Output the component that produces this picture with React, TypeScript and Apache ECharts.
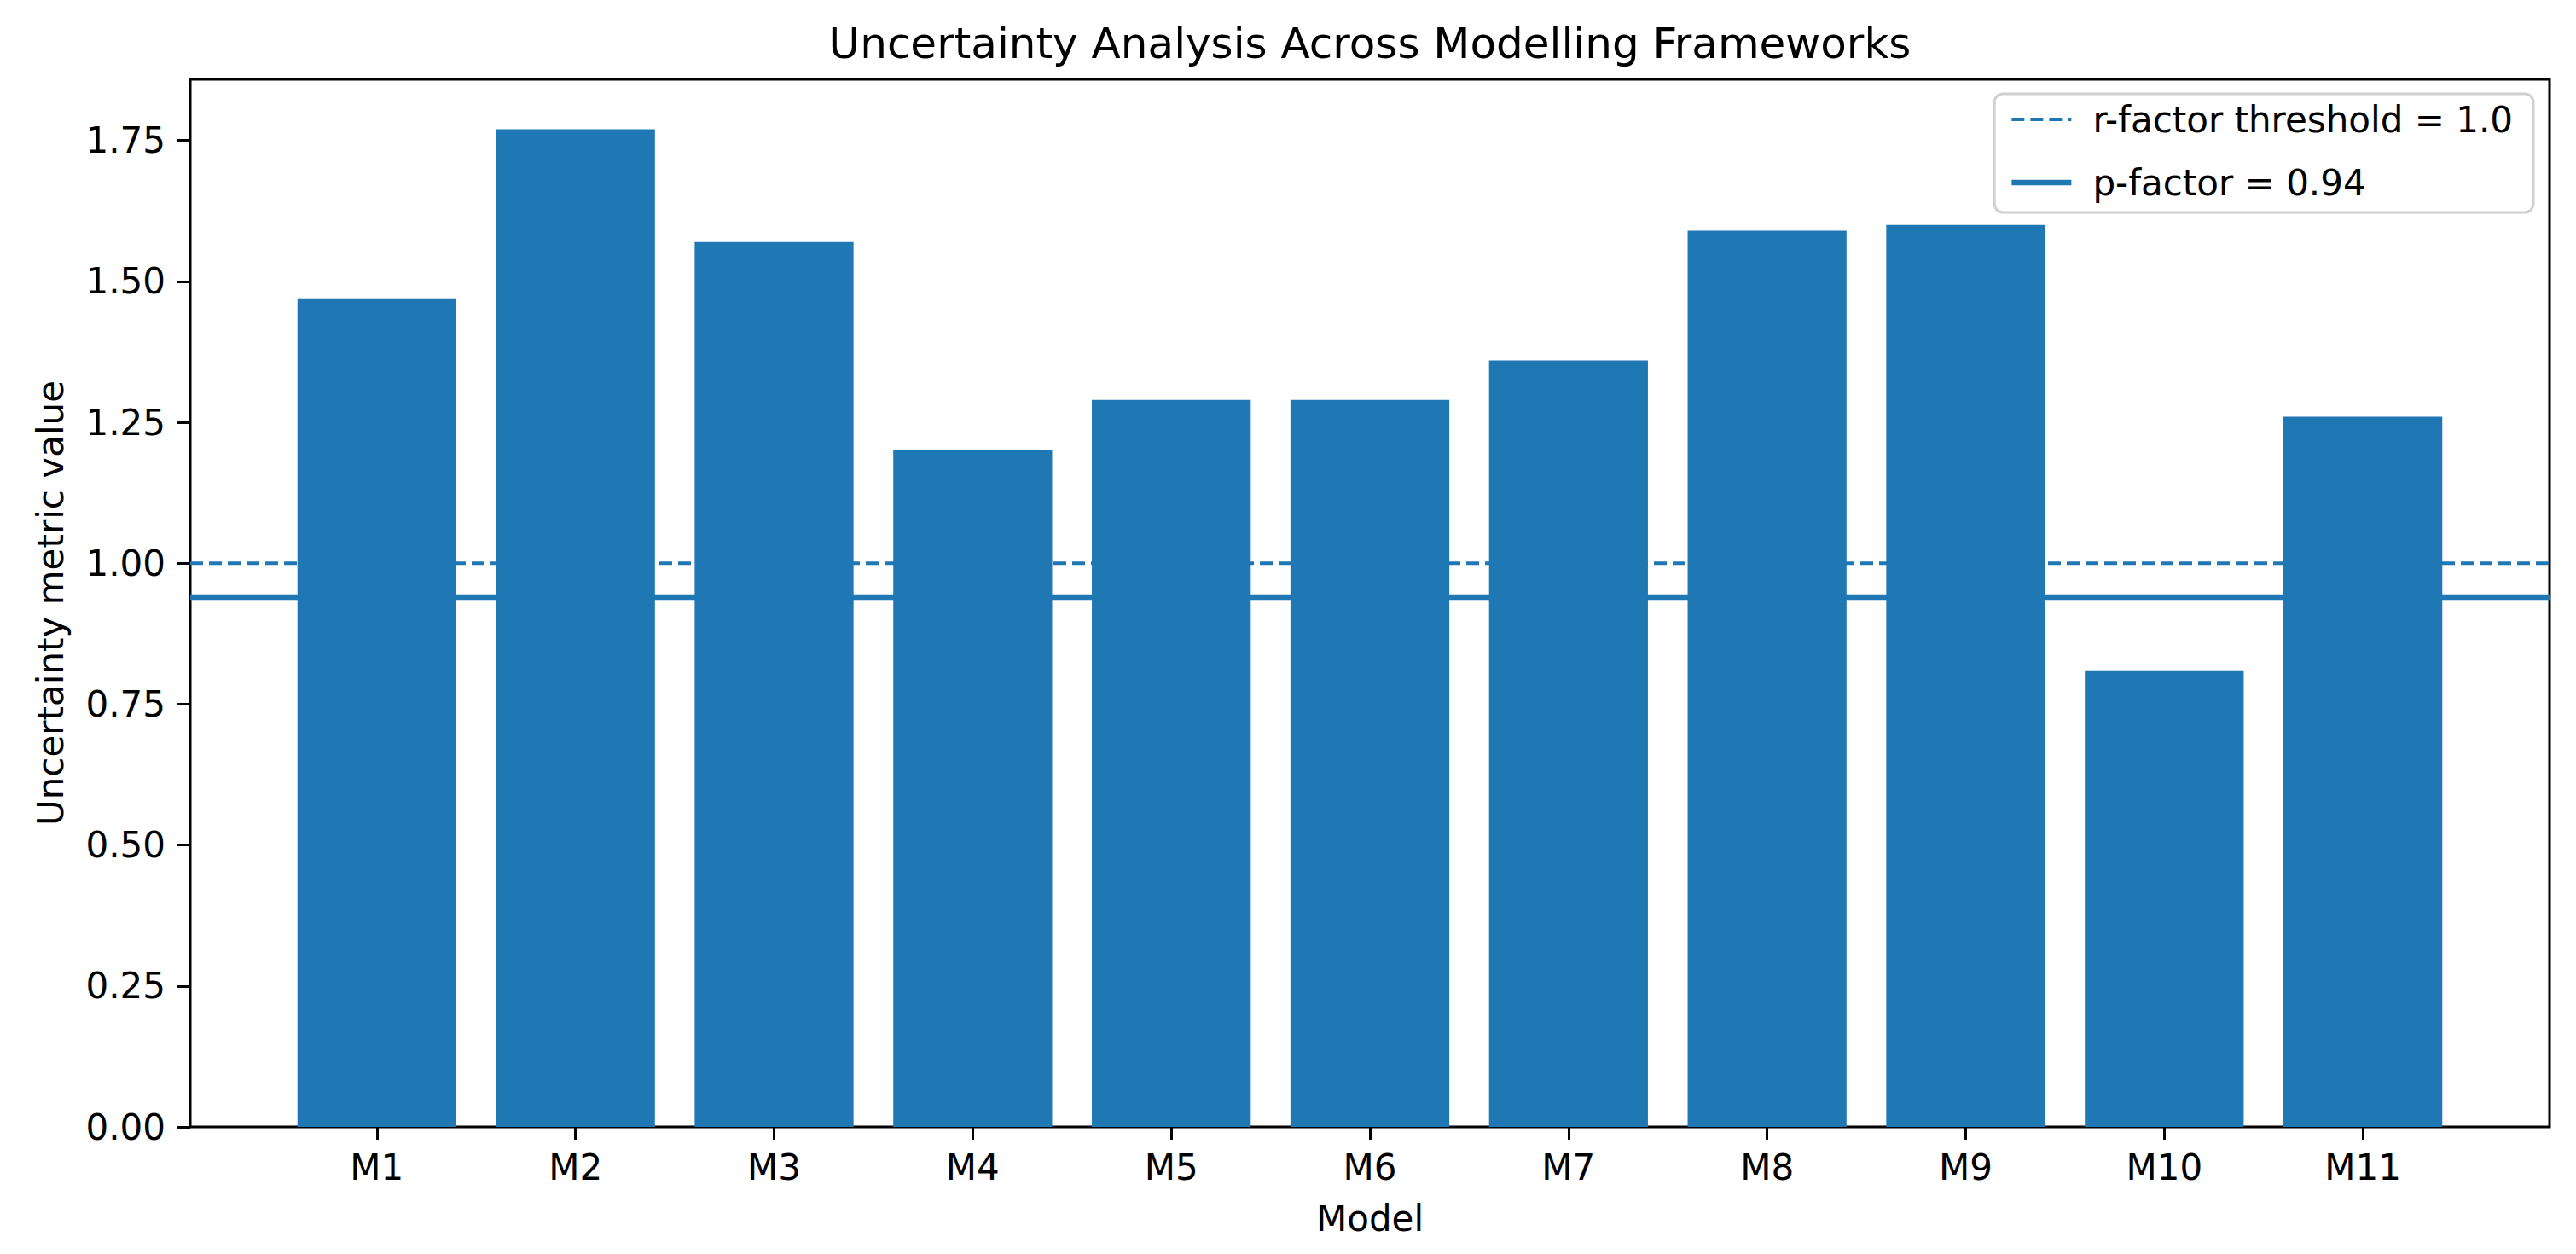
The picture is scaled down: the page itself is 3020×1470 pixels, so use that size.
import React, { useEffect, useRef } from 'react';
import * as echarts from 'echarts';

const categories = ['M1', 'M2', 'M3', 'M4', 'M5', 'M6', 'M7', 'M8', 'M9', 'M10', 'M11'];
const values = [1.47, 1.77, 1.57, 1.2, 1.29, 1.29, 1.36, 1.59, 1.6, 0.81, 1.26];
const rFactorThreshold = 1.0;
const pFactor = 0.94;
const yTicks = [0, 0.25, 0.5, 0.75, 1.0, 1.25, 1.5, 1.75];
const titleText = 'Uncertainty Analysis Across Modelling Frameworks';
const xAxisName = 'Model';
const yAxisName = 'Uncertainty metric value';
const rLabel = 'r-factor threshold = 1.0';
const pLabel = 'p-factor = 0.94';

const W = 3020;
const H = 1470;
const GRID = { left: 223, right: 31, top: 93, bottom: 149 };
const X_MIN = -0.94;
const X_MAX = 10.94;
const Y_MAX = 1.8585;
const BLUE = '#1f77b4';
const FONT = 'DejaVu Sans';
const DASHED = { color: BLUE, width: 4, type: [15, 7] as number[] };
const SOLID = { color: BLUE, width: 6.5, type: 'solid' };

export default function App() {
  const ref = useRef<HTMLDivElement>(null);
  useEffect(() => {
    if (!ref.current) return;
    const chart = echarts.init(ref.current, null, { renderer: 'svg' });
    const plotW = W - GRID.left - GRID.right;
    const barWidth = (0.8 * plotW) / (X_MAX - X_MIN);
    const xTickVals = categories.map((_, i) => i);
    chart.setOption({
      animation: false,
      backgroundColor: '#ffffff',
      textStyle: { fontFamily: FONT },
      grid: {
        ...GRID,
        show: true,
        borderColor: '#000000',
        borderWidth: 3,
        containLabel: false,
      },
      graphic: [
        {
          type: 'text',
          x: GRID.left + plotW / 2,
          y: 51,
          style: {
            text: titleText,
            fontFamily: FONT,
            fontSize: 50,
            fill: '#000000',
            textAlign: 'center',
            textVerticalAlign: 'middle',
          },
        },
      ],
      legend: {
        data: [
          { name: rLabel, lineStyle: DASHED },
          { name: pLabel, lineStyle: SOLID },
        ],
        orient: 'vertical',
        right: 50,
        top: 110,
        padding: [9, 24, 14, 17],
        itemWidth: 70,
        itemHeight: 42,
        itemGap: 32,
        backgroundColor: '#ffffff',
        borderColor: '#d0d0d0',
        borderWidth: 3,
        borderRadius: 10,
        itemStyle: { opacity: 0 },
        textStyle: {
          fontFamily: FONT,
          fontSize: 42,
          lineHeight: 42,
          color: '#000000',
          padding: [0, 0, 0, 20],
        },
      },
      xAxis: {
        type: 'value',
        min: X_MIN,
        max: X_MAX,
        name: xAxisName,
        nameLocation: 'middle',
        nameGap: 86,
        nameTextStyle: { fontFamily: FONT, fontSize: 42, color: '#000000' },
        splitLine: { show: false },
        axisLine: { show: false, onZero: false },
        axisTick: {
          show: true,
          customValues: xTickVals,
          length: 15,
          lineStyle: { color: '#000000', width: 3 },
        },
        axisLabel: {
          show: true,
          customValues: xTickVals,
          margin: 26,
          fontFamily: FONT,
          fontSize: 42,
          color: '#000000',
          formatter: (v: number) => categories[Math.round(v)] ?? '',
        },
      },
      yAxis: {
        type: 'value',
        min: 0,
        max: Y_MAX,
        name: yAxisName,
        nameLocation: 'middle',
        nameGap: 143,
        nameTextStyle: { fontFamily: FONT, fontSize: 42, color: '#000000' },
        splitLine: { show: false },
        axisLine: { show: false, onZero: false },
        axisTick: {
          show: true,
          customValues: yTicks,
          length: 15,
          lineStyle: { color: '#000000', width: 3 },
        },
        axisLabel: {
          show: true,
          customValues: yTicks,
          margin: 29,
          fontFamily: FONT,
          fontSize: 42,
          color: '#000000',
          formatter: (v: number) => v.toFixed(2),
        },
      },
      series: [
        {
          name: rLabel,
          type: 'line',
          z: 1,
          symbol: 'none',
          data: [
            [X_MIN, rFactorThreshold],
            [X_MAX, rFactorThreshold],
          ],
          lineStyle: DASHED,
          itemStyle: { color: BLUE },
        },
        {
          name: pLabel,
          type: 'line',
          z: 1,
          symbol: 'none',
          data: [
            [X_MIN, pFactor],
            [X_MAX, pFactor],
          ],
          lineStyle: SOLID,
          itemStyle: { color: BLUE },
        },
        {
          name: 'values',
          type: 'bar',
          z: 2,
          barWidth,
          data: values.map((v, i) => [i, v]),
          itemStyle: { color: BLUE },
        },
      ],
    });
    return () => chart.dispose();
  }, []);
  return (
    <div
      ref={ref}
      style={{ position: 'fixed', left: 0, top: 0, width: W, height: H, background: '#ffffff' }}
    />
  );
}
